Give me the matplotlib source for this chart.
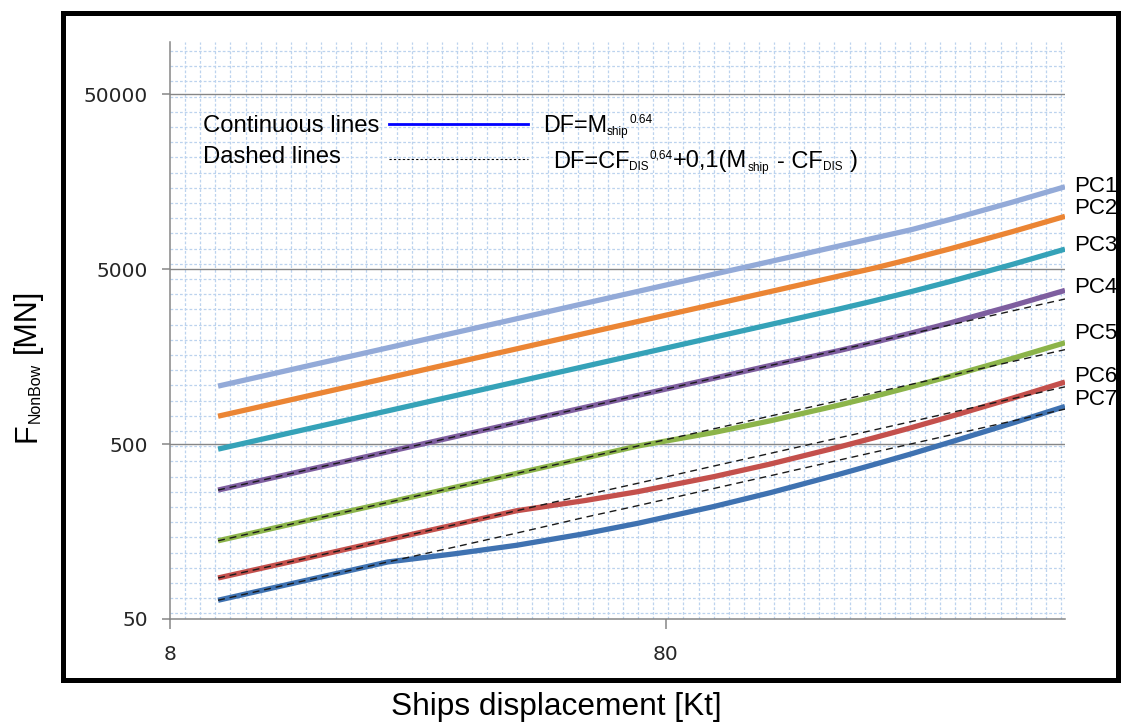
import matplotlib
matplotlib.use("Agg")
import matplotlib.pyplot as plt
from matplotlib.collections import LineCollection
from matplotlib.lines import Line2D
from matplotlib.patches import Rectangle
from matplotlib.transforms import IdentityTransform

plt.rcParams["font.family"] = ["Liberation Sans", "DejaVu Sans"]

# ship displacement [kt]
DISPLACEMENT = [10, 15, 22, 30, 40, 55, 70, 100, 130, 180, 210, 250, 300, 400, 510]

# F_NonBow [MN], continuous curves
PC1 = [1073, 1391, 1777, 2167, 2605, 3195, 3728, 4684, 5540, 6823, 7531, 8419, 9648, 12106, 14809]
PC2 = [722, 936, 1196, 1459, 1753, 2150, 2508, 3152, 3728, 4592, 5068, 5729, 6557, 8211, 10030]
PC3 = [468, 607, 775, 945, 1136, 1393, 1626, 2043, 2416, 2976, 3298, 3726, 4262, 5334, 6513]
PC4 = [273, 354, 452, 551, 663, 812, 948, 1191, 1409, 1721, 1909, 2159, 2471, 3096, 3784]
PC5 = [140, 182, 232, 283, 340, 417, 487, 583, 680, 840, 936, 1065, 1225, 1546, 1899]
PC6 = [85.8, 111, 142, 173, 208, 238, 267, 326, 385, 484, 543, 621, 720, 916, 1132]
PC7 = [64, 83, 106, 118, 132, 154, 176, 220, 264, 338, 382, 440, 514, 660, 821]

# dashed curves (PC4..PC7)
PC4_DASH = [273, 354, 452, 551, 663, 812, 948, 1191, 1409, 1735, 1915, 2141, 2405, 2892, 3379]
PC5_DASH = [140, 182, 232, 283, 340, 417, 487, 612, 724, 891, 984, 1099, 1235, 1485, 1735]
PC6_DASH = [85.8, 111, 142, 173, 208, 256, 298, 375, 443, 546, 602, 673, 757, 910, 1063]
PC7_DASH = [64, 83, 106, 129, 155, 191, 222, 279, 330, 407, 449, 502, 564, 678, 793]

NAMES = ["PC1", "PC2", "PC3", "PC4", "PC5", "PC6", "PC7"]
SOLID = [PC1, PC2, PC3, PC4, PC5, PC6, PC7]
DASHED = [PC4_DASH, PC5_DASH, PC6_DASH, PC7_DASH]
COLORS = ["#93AAD8", "#EB8534", "#35A2B8", "#7E5E9F", "#8CB44A", "#C4504C", "#3F72B1"]
# vertical nudge of the end labels, points
LABEL_DY = [0, 5.8, 2.9, 2.2, 6.9, 4.3, 5.0]

X_TICKS = [8, 80]
Y_TICKS = [50, 500, 5000, 50000]

W, H = 1121, 722
AXIS_GRAY = "#868686"


def rich_text(fig, x, y, parts, rotation=0):
    """Draw text pieces one after another (display pixels, y from top).
    parts: (text, size, rise_px, gap_px)"""
    renderer = fig.canvas.get_renderer()
    tr = IdentityTransform()
    cx, cy = x, H - y
    for s, size, rise, gap in parts:
        if rotation == 0:
            cx += gap
            t = fig.text(cx, cy + rise, s, transform=tr, fontsize=size,
                         ha="left", va="baseline")
            cx += t.get_window_extent(renderer).width
        else:
            cy += gap
            t = fig.text(cx - rise, cy, s, transform=tr, fontsize=size,
                         ha="left", va="baseline", rotation=90,
                         rotation_mode="anchor")
            cy += t.get_window_extent(renderer).height


fig = plt.figure(figsize=(W / 100, H / 100), dpi=100)
ax = fig.add_axes([170 / W, 1 - 619 / H, 895 / W, 577.3 / H])
ax.set_xscale("log")
ax.set_yscale("log")
ax.set_xlim(8, 510)
ax.set_ylim(50, 100000)
ax.minorticks_off()

# graph-paper background
vx = [k * 15.1 / 895 for k in range(1, 60)]
hy = [(5.7 + 15.2 * k) / 577.3 for k in range(0, 38)]
segs = [[(v, 0), (v, 1)] for v in vx] + [[(0, h), (1, h)] for h in hy]
ax.add_collection(LineCollection(segs, transform=ax.transAxes, colors="#BCD3EE",
                                 linewidths=0.9, linestyles=(0, (2.2, 1.6)), zorder=0))

for v in Y_TICKS[1:]:
    ax.axhline(v, color=AXIS_GRAY, lw=1.0, zorder=1)

for vals, color in zip(SOLID, COLORS):
    ax.plot(DISPLACEMENT, vals, color=color, lw=3.8, solid_capstyle="butt", zorder=3)
for vals in DASHED:
    ax.plot(DISPLACEMENT, vals, color="#1a1a1a", lw=1.0, dashes=(5, 3.5), zorder=4)

for name, vals, dy in zip(NAMES, SOLID, LABEL_DY):
    ax.annotate(name, xy=(DISPLACEMENT[-1], vals[-1]), xytext=(6.5, dy),
                textcoords="offset points", fontsize=16, va="center", ha="left",
                annotation_clip=False)

ax.set_xticks(X_TICKS, labels=[str(v) for v in X_TICKS], fontfamily="DejaVu Sans")
ax.set_yticks(Y_TICKS, labels=[str(v) for v in Y_TICKS], fontfamily="DejaVu Sans")
ax.tick_params(axis="x", length=7, width=1.1, color=AXIS_GRAY, pad=12,
               labelsize=14.5, labelcolor="#262626")
ax.tick_params(axis="y", length=6, width=1.1, color=AXIS_GRAY, pad=10,
               labelsize=14.5, labelcolor="#262626")
for side in ["top", "right"]:
    ax.spines[side].set_visible(False)
for side in ["left", "bottom"]:
    ax.spines[side].set_color(AXIS_GRAY)
    ax.spines[side].set_linewidth(1.1)

# outer frame
fig.add_artist(Rectangle((62.5 / W, 1 - 680 / H), 1055 / W, 667.5 / H,
                         transform=fig.transFigure, fill=False, lw=3.6,
                         edgecolor="black", clip_on=False))

# key inside the plot
fig.text(203, H - 132, "Continuous lines", transform=IdentityTransform(),
         fontsize=17.2, ha="left", va="baseline")
fig.text(203, H - 163, "Dashed lines", transform=IdentityTransform(),
         fontsize=17.2, ha="left", va="baseline")
fig.add_artist(Line2D([389, 528], [H - 124, H - 124], transform=IdentityTransform(),
                      color="#0000FF", lw=2.0))
fig.add_artist(Line2D([389, 528], [H - 159, H - 159], transform=IdentityTransform(),
                      color="black", lw=0.8, dashes=(2, 2)))

rich_text(fig, 543, 132, [("DF=M", 16.8, 0, 0), ("ship", 8.5, -3, 0),
                          ("0.64", 8.5, 9, 1)])
rich_text(fig, 553, 167.5, [("DF=CF", 17, 0, 0), ("DIS", 8.5, -3, 0),
                            ("0,64", 8.5, 9, 1), ("+0,1(M", 17, 0, 0),
                            ("ship", 8.5, -3, 0), ("- CF", 17, 0, 8),
                            ("DIS", 8.5, -3, 0), (")", 17, 0, 8)])

# axis titles
fig.text(556 / W, 1 - 715 / H, "Ships displacement [Kt]", fontsize=22.8,
         ha="center", va="baseline")
rich_text(fig, 35, 442, [("F", 22, 0, 0), ("NonBow", 11.5, -5, 0),
                         ("[MN]", 22, 0, 10)], rotation=90)

fig.savefig("out.png", dpi=100)
